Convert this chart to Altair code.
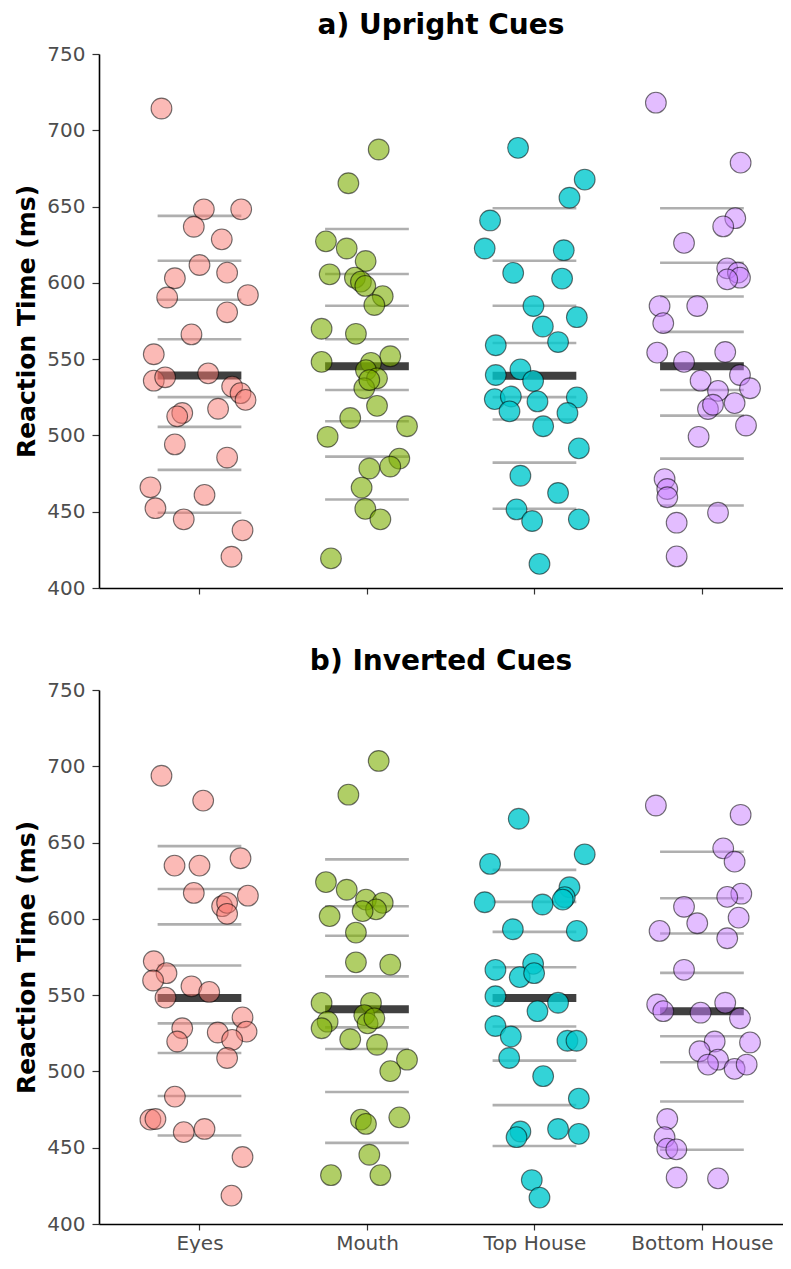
import altair as alt
import pandas as pd

categories = ["Eyes", "Mouth", "Top House", "Bottom House"]
panel_titles = ["a) Upright Cues", "b) Inverted Cues"]

# ---------------- Upright cues: reaction times and horizontal jitter ----------------
eyes_up_rt = [714.3, 648.2, 648.2, 636.8, 628.5, 611.7, 603.0, 606.7, 590.4, 592.0, 580.7, 566.2, 553.2, 535.9, 538.1,
              540.7, 532.0, 527.7, 523.3, 517.5, 514.7, 512.5, 494.1, 485.5, 466.0, 461.0, 452.3, 445.0, 437.8, 420.5]
eyes_up_jit = [-0.227, 0.026, 0.249, -0.034, 0.133, 0.0, -0.147, 0.165, -0.193, 0.289, 0.165, -0.048, -0.273, -0.273, -0.205,
               0.052, 0.195, 0.245, 0.275, 0.111, -0.103, -0.133, -0.147, 0.165, -0.293, 0.03, -0.263, -0.094, 0.257, 0.191]
mouth_up_rt = [687.4, 665.3, 627.2, 622.5, 614.3, 605.6, 603.4, 600.8, 598.0, 591.3, 585.5, 569.9, 566.6, 548.2, 551.9, 547.6,
               542.8, 537.4, 530.9, 536.3, 519.4, 511.4, 506.0, 499.1, 484.8, 479.6, 478.3, 465.8, 451.9, 445.0, 419.4]
mouth_up_jit = [0.07, -0.111, -0.245, -0.121, -0.008, -0.223, -0.072, -0.036, -0.01, 0.094, 0.044, -0.271, -0.066, -0.271, 0.139,
                0.024, -0.006, 0.06, -0.016, 0.014, 0.06, -0.1, 0.239, -0.235, 0.193, 0.139, 0.014, -0.032, -0.01, 0.08, -0.215]
top_up_rt = [688.5, 667.7, 655.8, 640.9, 622.5, 621.4, 606.5, 602.8, 584.8, 577.5, 571.4, 559.1, 561.2, 539.6, 543.3,
             535.7, 523.8, 525.5, 522.3, 524.9, 515.8, 514.7, 506.0, 491.5, 473.6, 462.3, 451.5, 443.9, 445.0, 415.8]
top_up_jit = [-0.098, 0.3, 0.209, -0.265, -0.297, 0.175, -0.127, 0.165, -0.006, 0.253, 0.05, -0.231, 0.141, -0.231, -0.084,
              -0.008, -0.237, -0.141, 0.018, 0.253, -0.149, 0.197, 0.052, 0.265, -0.084, 0.141, -0.107, -0.014, 0.265, 0.03]
bottom_up_rt = [718.1, 678.8, 642.4, 637.0, 626.2, 609.5, 606.7, 603.4, 602.3, 584.8, 584.8, 573.6, 554.3, 554.7, 548.2,
                539.6, 535.9, 530.9, 529.2, 521.2, 517.3, 520.1, 506.5, 499.1, 471.4, 464.9, 459.5, 449.3, 442.8, 420.7]
bottom_up_jit = [-0.275, 0.231, 0.199, 0.127, -0.107, 0.151, 0.215, 0.227, 0.151, -0.253, -0.028, -0.231, -0.267, 0.139, -0.107,
                 0.227, -0.008, 0.287, 0.096, 0.195, 0.036, 0.066, 0.263, -0.02, -0.223, -0.207, -0.207, 0.096, -0.151, -0.151]

# ---------------- Inverted cues ----------------
eyes_inv_rt = [693.8, 677.5, 639.7, 634.9, 634.9, 617.0, 615.2, 608.3, 610.5, 603.3, 572.2, 564.4, 559.6, 548.4, 555.8,
               552.1, 535.4, 528.3, 526.1, 525.5, 520.7, 519.6, 508.8, 483.5, 468.4, 468.8, 460.2, 462.3, 443.9, 418.6]
eyes_inv_jit = [-0.227, 0.022, 0.245, -0.149, 0.0, -0.034, 0.289, 0.135, 0.165, 0.165, -0.273, -0.197, -0.277, -0.203, -0.048,
                0.058, 0.257, -0.103, 0.281, 0.109, 0.195, -0.133, 0.165, -0.147, -0.293, -0.263, -0.094, 0.03, 0.257, 0.191]
mouth_inv_rt = [703.5, 681.4, 624.1, 619.1, 612.6, 610.5, 606.2, 605.1, 601.8, 591.0, 571.5, 570.0, 544.9, 544.9, 532.6,
                528.3, 536.9, 531.5, 534.8, 521.1, 517.5, 507.7, 500.2, 468.4, 465.6, 469.9, 445.4, 432.0, 432.0]
mouth_inv_jit = [0.07, -0.111, -0.245, -0.121, -0.006, 0.094, 0.054, -0.026, -0.223, -0.066, -0.066, 0.139, -0.271, 0.024, -0.235,
                 -0.271, -0.016, 0.004, 0.044, -0.1, 0.06, 0.239, 0.139, -0.036, -0.006, 0.193, 0.014, -0.215, 0.08]
top_inv_rt = [665.6, 642.3, 636.0, 620.7, 614.2, 610.9, 609.4, 612.6, 593.2, 592.1, 570.5, 566.6, 561.8, 564.4, 549.3,
              545.0, 539.5, 529.8, 522.9, 520.1, 520.1, 508.8, 496.9, 482.2, 460.6, 456.9, 462.3, 459.1, 428.8, 417.3]
top_inv_jit = [-0.094, 0.3, -0.265, 0.209, 0.181, -0.297, 0.048, 0.169, -0.129, 0.253, -0.008, -0.233, -0.088, -0.002, -0.233,
               0.141, 0.018, -0.233, -0.141, 0.197, 0.251, -0.151, 0.052, 0.265, -0.084, -0.107, 0.141, 0.265, -0.016, 0.03]
bottom_inv_rt = [674.3, 668.2, 646.2, 637.5, 616.5, 614.4, 607.9, 600.8, 597.1, 592.1, 587.3, 566.6, 543.9, 539.5, 545.0,
                 538.5, 534.8, 519.6, 519.0, 513.2, 507.7, 504.5, 501.7, 504.5, 468.8, 456.9, 449.4, 448.9, 430.5, 429.9]
bottom_inv_jit = [-0.275, 0.231, 0.127, 0.195, 0.235, 0.151, -0.107, 0.219, -0.028, -0.253, 0.151, -0.107, -0.267, -0.231, 0.139,
                  -0.008, 0.227, 0.076, 0.287, -0.014, 0.096, 0.036, 0.195, 0.267, -0.207, -0.223, -0.207, -0.153, -0.151, 0.096]

# ---------------- Decile lines (grey) and central value (dark bar) ----------------
eyes_up_deciles = [643.9, 614.5, 588.9, 563.0, 525.1, 505.6, 477.4, 449.3]
mouth_up_deciles = [635.3, 605.8, 585.0, 563.0, 529.8, 509.3, 486.1, 458.0]
top_up_deciles = [648.9, 614.5, 585.0, 560.6, 525.1, 510.4, 482.2, 451.9]
bottom_up_deciles = [648.9, 613.2, 591.1, 567.9, 529.8, 513.0, 484.8, 454.1]
up_centre = [539.2, 545.4, 539.1, 545.4]

eyes_inv_deciles = [647.7, 619.6, 596.4, 569.4, 531.5, 512.1, 483.9, 458.0]
mouth_inv_deciles = [639.0, 608.3, 588.9, 562.3, 528.9, 514.7, 486.5, 453.2]
top_inv_deciles = [632.1, 611.1, 591.5, 568.3, 529.4, 507.1, 477.9, 451.1]
bottom_inv_deciles = [644.0, 613.5, 590.4, 564.6, 523.1, 506.0, 480.3, 448.7]
inv_centre = [548.2, 540.8, 548.2, 539.5]

fill_colors = ["rgba(248,118,109,0.5)", "rgba(124,174,0,0.6)", "rgba(0,200,205,0.8)", "rgba(199,124,255,0.5)"]

panels = [
    (panel_titles[0],
     [(eyes_up_rt, eyes_up_jit), (mouth_up_rt, mouth_up_jit), (top_up_rt, top_up_jit), (bottom_up_rt, bottom_up_jit)],
     [eyes_up_deciles, mouth_up_deciles, top_up_deciles, bottom_up_deciles], up_centre, False),
    (panel_titles[1],
     [(eyes_inv_rt, eyes_inv_jit), (mouth_inv_rt, mouth_inv_jit), (top_inv_rt, top_inv_jit), (bottom_inv_rt, bottom_inv_jit)],
     [eyes_inv_deciles, mouth_inv_deciles, top_inv_deciles, bottom_inv_deciles], inv_centre, True),
]

HALF = 0.25
label_expr = "['', 'Eyes', 'Mouth', 'Top House', 'Bottom House'][datum.value]"
FONT = "DejaVu Sans"

charts = []
for title, pts, decs, centre, show_labels in panels:
    prow, lrow, crow = [], [], []
    for i, cat in enumerate(categories):
        rt, jit = pts[i]
        for v, j in zip(rt, jit):
            prow.append({"cat": cat, "x": i + 1 + j, "rt": v})
        for d in decs[i]:
            lrow.append({"cat": cat, "x": i + 1 - HALF, "x2": i + 1 + HALF, "rt": d})
        crow.append({"cat": cat, "x": i + 1 - HALF, "x2": i + 1 + HALF, "rt": centre[i]})
    pdf, ldf, cdf = pd.DataFrame(prow), pd.DataFrame(lrow), pd.DataFrame(crow)

    xscale = alt.Scale(domain=[0.4, 4.484], nice=False, zero=False)
    yscale = alt.Scale(domain=[400, 750], nice=False, zero=False)
    xaxis = alt.Axis(values=[1, 2, 3, 4], labelExpr=label_expr, grid=False, title=None,
                     labels=show_labels, labelFontSize=20, labelColor="#4D4D4D", labelPadding=3,
                     tickSize=6)
    yaxis = alt.Axis(values=[400, 450, 500, 550, 600, 650, 700, 750], grid=False,
                     title="Reaction Time (ms)", titleFontSize=25, titleFontWeight="bold",
                     titleColor="black", labelFontSize=20, labelColor="#4D4D4D", labelPadding=7,
                     titlePadding=7, tickSize=7)

    lines = alt.Chart(ldf).mark_rule(color="#AFAFAF", strokeWidth=2.6).encode(
        x=alt.X("x:Q", scale=xscale, axis=xaxis), x2="x2:Q",
        y=alt.Y("rt:Q", scale=yscale, axis=yaxis))
    centre_bar = alt.Chart(cdf).mark_rule(color="#404040", strokeWidth=8).encode(
        x=alt.X("x:Q", scale=xscale, axis=xaxis), x2="x2:Q",
        y=alt.Y("rt:Q", scale=yscale, axis=yaxis))
    points = alt.Chart(pdf).mark_point(shape="circle", filled=True, size=430, stroke="black",
                                       strokeOpacity=0.55, strokeWidth=1.1, opacity=1).encode(
        x=alt.X("x:Q", scale=xscale, axis=xaxis),
        y=alt.Y("rt:Q", scale=yscale, axis=yaxis),
        fill=alt.Fill("cat:N", scale=alt.Scale(domain=categories, range=fill_colors), legend=None))

    layer = alt.layer(lines, centre_bar, points).properties(
        width=684, height=534,
        title=alt.TitleParams(title, fontSize=28, fontWeight="bold", anchor="middle", frame="group",
                              font=FONT, color="black", offset=4))
    charts.append(layer)

chart = alt.vconcat(*charts, spacing=50).properties(
    padding={"left": 6, "top": 4, "right": 0, "bottom": 0}
).configure(
    font=FONT
).configure_view(stroke=None).configure_axis(
    domainColor="black", domainWidth=1.6, tickColor="#333333", tickWidth=1.2,
    labelFont=FONT, titleFont=FONT
)

chart.save("out.html", embed_options={"renderer": "svg", "actions": False})
